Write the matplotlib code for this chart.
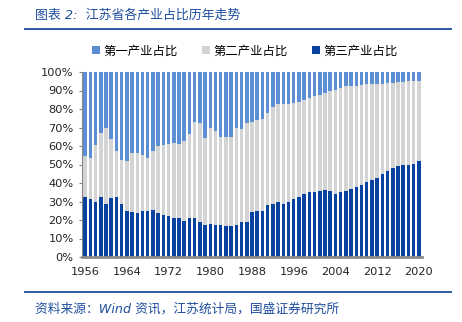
import numpy as np
import matplotlib
matplotlib.use("Agg")
import matplotlib.pyplot as plt
from matplotlib.lines import Line2D
from matplotlib.patches import Patch

plt.rcParams["font.family"] = ["DejaVu Sans", "Noto Sans CJK SC"]

# ── data ────────────────────────────────────────────
years = list(range(1956, 2021))

# share of tertiary industry (%), bottom segment
tertiary = [
    32.4, 31.3, 30.0, 32.5, 28.4, 32.0, 32.4, 28.7, 25.1, 24.2,   # 1956-1965
    23.6, 25.1, 25.1, 25.3, 24.0, 22.5, 22.0, 21.1, 20.9, 19.5,   # 1966-1975
    20.9, 21.1, 19.1, 17.3, 17.6, 17.3, 17.3, 16.9, 16.7, 17.3,   # 1976-1985
    18.9, 19.1, 24.5, 25.1, 25.1, 28.2, 28.5, 29.5, 28.5, 29.8,   # 1986-1995
    31.6, 32.7, 34.2, 34.9, 35.3, 35.8, 36.0, 35.5, 34.0, 34.9,   # 1996-2005
    35.8, 36.7, 37.8, 38.9, 40.7, 41.8, 42.9, 44.7, 46.4, 48.0,   # 2006-2015
    49.3, 49.6, 49.6, 50.5, 52.0,                                 # 2016-2020
]

# cumulative tertiary + secondary (%), top of gray segment
tert_plus_sec = [
    54.5, 53.5, 60.7, 67.1, 69.8, 63.6, 57.3, 52.7, 52.0, 56.0,
    56.0, 54.9, 53.6, 57.1, 60.0, 60.7, 61.1, 61.5, 61.1, 62.7,
    66.4, 73.1, 72.4, 64.5, 69.8, 68.2, 64.9, 65.1, 65.1, 69.5,
    69.3, 72.7, 73.1, 74.0, 74.4, 78.0, 80.9, 82.9, 82.7, 82.7,
    83.1, 83.8, 84.9, 85.8, 87.1, 87.8, 88.9, 90.0, 90.3, 91.5,
    92.2, 92.5, 92.5, 92.9, 93.3, 93.5, 93.5, 93.6, 93.8, 94.0,
    94.4, 94.7, 94.9, 95.1, 95.3,
]

tertiary = np.array(tertiary)
secondary = np.array(tert_plus_sec) - tertiary
primary = 100 - np.array(tert_plus_sec)

labels = ["第一产业占比", "第二产业占比", "第三产业占比"]
x_ticks = list(range(1956, 2021, 8))
y_ticks = list(range(0, 101, 10))

c_primary = "#5B8ED3"
c_secondary = "#D4D4D4"
c_tertiary = "#0842A0"
c_title = "#1F4E9E"

W, H = 462, 322
fig = plt.figure(figsize=(W / 100, H / 100), dpi=100)
fig.patch.set_facecolor("white")

ax = fig.add_axes([82 / W, (H - 257) / H, (422 - 82) / W, (257 - 72) / H])
bw = 0.68
ax.bar(years, tertiary, width=bw, color=c_tertiary, linewidth=0)
ax.bar(years, secondary, width=bw, bottom=tertiary, color=c_secondary, linewidth=0)
ax.bar(years, primary, width=bw, bottom=tertiary + secondary, color=c_primary, linewidth=0)

ax.set_xlim(1955.4, 2020.6)
ax.set_ylim(0, 100)
ax.set_xticks(x_ticks)
ax.set_yticks(y_ticks)
ax.set_yticklabels([f"{v}%" for v in y_ticks])
ax.tick_params(axis="both", labelsize=8.2, colors="#222222", length=0, pad=5)
ax.tick_params(axis="y", length=2, color="#888888", pad=4)
ax.tick_params(axis="x", pad=7)
for s in ["top", "right"]:
    ax.spines[s].set_visible(False)
ax.spines["left"].set_color("#888888")
ax.spines["left"].set_linewidth(0.8)
ax.spines["bottom"].set_color("#8C8C8C")
ax.spines["bottom"].set_linewidth(2.0)

handles = [Patch(facecolor=c, edgecolor="none") for c in [c_primary, c_secondary, c_tertiary]]
fig.legend(handles, labels, loc="center", bbox_to_anchor=(0.53, 1 - 51 / H), ncol=3,
           frameon=False, handlelength=0.65, handleheight=0.65,
           handletextpad=0.25, columnspacing=2.0,
           prop={"family": ["Noto Sans CJK SC"], "size": 8.9})

# title and source with rules
fig.text(35 / W, 1 - 15 / H, "图表 2:  江苏省各产业占比历年走势", color=c_title,
         fontsize=9.3, style="italic", va="center", ha="left",
         family=["DejaVu Sans", "Noto Sans CJK SC"])
fig.add_artist(Line2D([25 / W, 451 / W], [1 - 29 / H] * 2, color="#2B5BA6", lw=1.4))
fig.add_artist(Line2D([25 / W, 451 / W], [1 - 292 / H] * 2, color="#2B5BA6", lw=1.4))
fig.text(35 / W, 1 - 309 / H, "资料来源：Wind 资讯，江苏统计局，国盛证券研究所", color=c_title,
         fontsize=9.2, style="italic", va="center", ha="left",
         family=["DejaVu Sans", "Noto Sans CJK SC"])

fig.savefig("out.png", dpi=100)
